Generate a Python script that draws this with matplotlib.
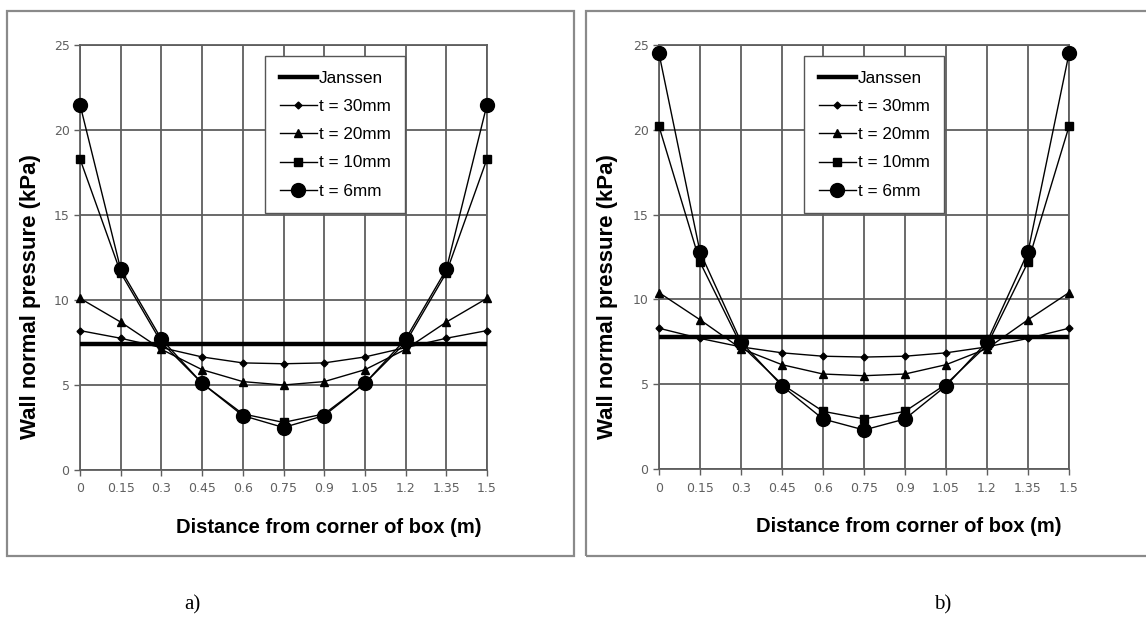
import matplotlib
matplotlib.use("Agg")
import matplotlib.pyplot as plt
from matplotlib.patches import Rectangle

W, H = 1146, 626
x_vals = [0, 0.15, 0.3, 0.45, 0.6, 0.75, 0.9, 1.05, 1.2, 1.35, 1.5]
x_ticklabels = ["0", "0.15", "0.3", "0.45", "0.6", "0.75", "0.9", "1.05", "1.2", "1.35", "1.5"]
y_ticks = [0, 5, 10, 15, 20, 25]

# Panel a)
janssen_a = 7.4
t30_a = [8.2, 7.75, 7.2, 6.65, 6.3, 6.25, 6.3, 6.65, 7.2, 7.75, 8.2]
t20_a = [10.1, 8.7, 7.1, 5.9, 5.2, 5.0, 5.2, 5.9, 7.1, 8.7, 10.1]
t10_a = [18.3, 11.6, 7.5, 5.1, 3.3, 2.8, 3.3, 5.1, 7.5, 11.6, 18.3]
t6_a = [21.5, 11.8, 7.7, 5.1, 3.2, 2.5, 3.2, 5.1, 7.7, 11.8, 21.5]

# Panel b)
janssen_b = 7.8
t30_b = [8.3, 7.7, 7.2, 6.85, 6.65, 6.6, 6.65, 6.85, 7.2, 7.7, 8.3]
t20_b = [10.4, 8.8, 7.1, 6.15, 5.6, 5.5, 5.6, 6.15, 7.1, 8.8, 10.4]
t10_b = [20.2, 12.2, 7.3, 5.0, 3.4, 2.95, 3.4, 5.0, 7.3, 12.2, 20.2]
t6_b = [24.5, 12.8, 7.5, 4.9, 2.95, 2.3, 2.95, 4.9, 7.5, 12.8, 24.5]

labels = ["Janssen", "t = 30mm", "t = 20mm", "t = 10mm", "t = 6mm"]

fig = plt.figure(figsize=(W / 100, H / 100), dpi=100)
fig.patch.set_facecolor("white")

def px_axes(x0, y0, x1, y1):
    return fig.add_axes([x0 / W, 1 - y1 / H, (x1 - x0) / W, (y1 - y0) / H])

# panel frames
for (bx0, by0, bx1, by1) in [(7, 11, 574, 556), (586, 11, 1150, 556)]:
    fig.patches.append(Rectangle((bx0 / W, 1 - by1 / H), (bx1 - bx0) / W, (by1 - by0) / H,
                                 transform=fig.transFigure, fill=False,
                                 edgecolor="#8a8a8a", linewidth=1.6))

def panel(ax, jan, s30, s20, s10, s6, legend_box, xlab_x, ylab_x):
    ax.set_xlim(0, 1.5)
    ax.set_ylim(0, 25)
    ax.set_xticks(x_vals)
    ax.set_xticklabels(x_ticklabels)
    ax.set_yticks(y_ticks)
    ax.grid(True, color="#5e5e5e", linewidth=1.3)
    ax.set_axisbelow(True)
    for s in ax.spines.values():
        s.set_color("#5e5e5e")
        s.set_linewidth(1.3)
    ax.tick_params(axis="both", colors="#5e5e5e", labelcolor="#606060", labelsize=9,
                   length=4, width=1.0, direction="out")
    ax.tick_params(axis="x", pad=5)
    ax.axhline(jan, color="black", linewidth=3.2, label=labels[0], zorder=3)
    kw = dict(color="black", linewidth=1.0, zorder=4, clip_on=False)
    ax.plot(x_vals, s30, marker="D", markersize=3.5, label=labels[1], **kw)
    ax.plot(x_vals, s20, marker="^", markersize=6, label=labels[2], **kw)
    ax.plot(x_vals, s10, marker="s", markersize=5.5, label=labels[3], **kw)
    ax.plot(x_vals, s6, marker="o", markersize=10, label=labels[4], **kw)
    ax.set_xlabel("Distance from corner of box (m)", fontsize=14.5, fontweight="bold",
                  family="Liberation Sans")
    ax.xaxis.set_label_coords(xlab_x, -0.113)
    ax.set_ylabel("Wall normal pressure (kPa)", fontsize=16, fontweight="bold",
                  family="Liberation Sans")
    ax.yaxis.set_label_coords(ylab_x, 0.407)
    leg = ax.legend(loc="upper left", bbox_to_anchor=legend_box, frameon=True, fancybox=False,
                    edgecolor="#555555", framealpha=1,
                    prop={"family": "Liberation Sans", "size": 12.3},
                    handlelength=2.2, handletextpad=0.1, labelspacing=0.78,
                    borderpad=0.85, borderaxespad=0)
    leg.get_frame().set_linewidth(1.0)

ax1 = px_axes(80, 45, 487, 470)
panel(ax1, janssen_a, t30_a, t20_a, t10_a, t6_a, ((265 - 80) / 407, (470 - 56) / 425),
      (329 - 80) / 407, (41 - 80) / 407)
ax2 = px_axes(659, 45, 1069, 469)
panel(ax2, janssen_b, t30_b, t20_b, t10_b, t6_b, ((804 - 659) / 410, (469 - 56) / 424),
      (908.5 - 659) / 410, (618 - 659) / 410)

fig.text(192 / W, 1 - 605 / H, "a)", family="Liberation Serif", fontsize=15, ha="center", va="center")
fig.text(943 / W, 1 - 605 / H, "b)", family="Liberation Serif", fontsize=15, ha="center", va="center")

fig.savefig("out.png", dpi=100, facecolor="white")
